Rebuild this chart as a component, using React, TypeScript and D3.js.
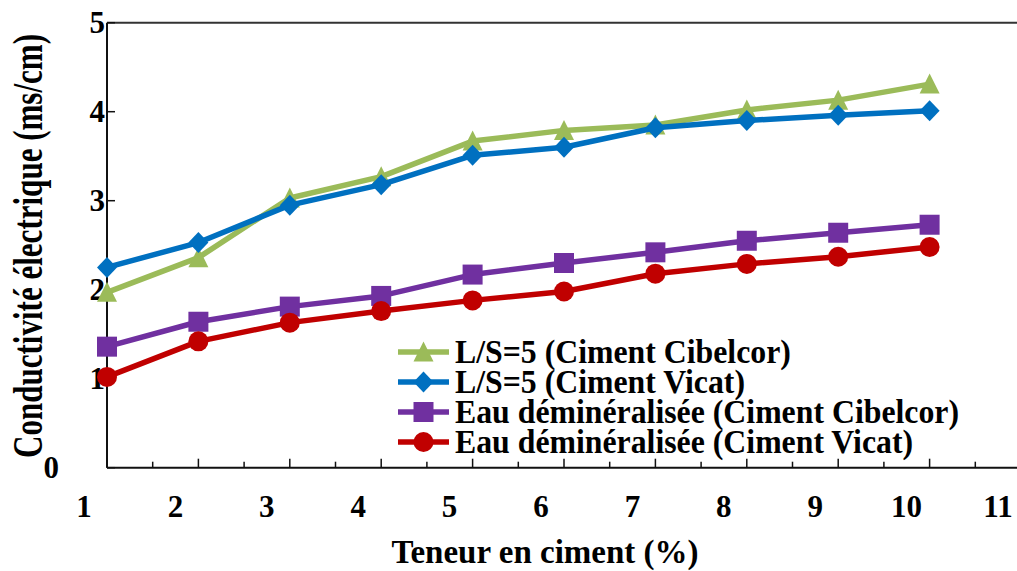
import React from "react";
import * as d3 from "d3";

const cementContent = [1, 2, 3, 4, 5, 6, 7, 8, 9, 10];
const lsCibelcor = [1.97, 2.36, 3.03, 3.27, 3.67, 3.79, 3.85, 4.02, 4.13, 4.31];
const lsVicat = [2.25, 2.53, 2.95, 3.18, 3.51, 3.6, 3.82, 3.9, 3.96, 4.01];
const eauCibelcor = [1.36, 1.64, 1.81, 1.93, 2.17, 2.3, 2.42, 2.55, 2.64, 2.73];
const eauVicat = [1.02, 1.42, 1.63, 1.76, 1.88, 1.98, 2.18, 2.29, 2.37, 2.48];
const seriesNames = [
  "L/S=5 (Ciment Cibelcor)",
  "L/S=5 (Ciment Vicat)",
  "Eau déminéralisée (Ciment Cibelcor)",
  "Eau déminéralisée (Ciment Vicat)",
];
const xTickLabels = ["1", "2", "3", "4", "5", "6", "7", "8", "9", "10", "11"];
const yTickLabels = ["0", "1", "2", "3", "4", "5"];
const xTitle = "Teneur en ciment (%)";
const yTitle = "Conductivité électrique (ms/cm)";

const W = 1017;
const H = 571;
const FONT = "'Liberation Serif', 'Times New Roman', serif";

type Shape = "triangle" | "diamond" | "square" | "circle";
const seriesStyle: { color: string; shape: Shape }[] = [
  { color: "#9BBB59", shape: "triangle" },
  { color: "#0070C0", shape: "diamond" },
  { color: "#7030A0", shape: "square" },
  { color: "#C00000", shape: "circle" },
];

function markerPath(shape: Shape, cx: number, cy: number): string {
  const p = d3.path();
  if (shape === "triangle") {
    p.moveTo(cx, cy - 10.5);
    p.lineTo(cx + 10, cy + 9.5);
    p.lineTo(cx - 10, cy + 9.5);
    p.closePath();
  } else if (shape === "diamond") {
    p.moveTo(cx, cy - 10.5);
    p.lineTo(cx + 10, cy);
    p.lineTo(cx, cy + 10.5);
    p.lineTo(cx - 10, cy);
    p.closePath();
  } else if (shape === "square") {
    p.rect(cx - 10, cy - 10, 20, 20);
  } else {
    p.arc(cx, cy, 10, 0, Math.PI * 2);
    p.closePath();
  }
  return p.toString();
}

export default function App() {
  const x = d3.scaleLinear().domain([1, 11]).range([107, 1021]);
  const y = d3.scaleLinear().domain([0, 5]).range([467.7, 22.7]);
  const allSeries = [lsCibelcor, lsVicat, eauCibelcor, eauVicat];
  const line = d3
    .line<number>()
    .x((_, i) => x(cementContent[i]))
    .y((v) => y(v));

  const majorX = d3.range(1, 12);
  const minorX = d3.range(1.5, 11, 1);
  const yTicks = d3.range(0, 6);

  const legendX = 398;
  const legendY0 = 352;
  const legendDy = 30;

  return (
    <svg
      width={W}
      height={H}
      style={{ position: "absolute", left: 0, top: 0, background: "#fff" }}
      fontFamily={FONT}
      fontWeight="bold"
    >
      <rect x={0} y={0} width={W} height={H} fill="#fff" />
      {/* frame */}
      <line x1={x(1)} x2={W} y1={y(5)} y2={y(5)} stroke="#333" strokeWidth={2} />
      <line x1={x(1)} x2={W} y1={y(0)} y2={y(0)} stroke="#111" strokeWidth={2} />
      <line x1={x(1)} x2={x(1)} y1={y(5)} y2={y(0)} stroke="#111" strokeWidth={2} />
      {majorX.map((t) => (
        <line key={"mx" + t} x1={x(t)} x2={x(t)} y1={y(0)} y2={y(0) - 9} stroke="#111" strokeWidth={1.5} />
      ))}
      {minorX.map((t) => (
        <line key={"nx" + t} x1={x(t)} x2={x(t)} y1={y(0)} y2={y(0) - 6} stroke="#111" strokeWidth={1.5} />
      ))}
      {yTicks.map((t) => (
        <line key={"my" + t} x1={x(1)} x2={x(1) + 8} y1={y(t)} y2={y(t)} stroke="#111" strokeWidth={1.5} />
      ))}
      {/* tick labels */}
      {majorX.map((t, i) => (
        <text key={"lx" + t} x={x(t) - 23} y={506} textAnchor="middle" dominantBaseline="central" fontSize={31}>
          {xTickLabels[i]}
        </text>
      ))}
      {yTicks.map((t, i) => (
        <text
          key={"ly" + t}
          x={t === 0 ? 59 : 105}
          y={y(t)}
          textAnchor="end"
          dominantBaseline="central"
          fontSize={31}
        >
          {yTickLabels[i]}
        </text>
      ))}
      {/* titles */}
      <text x={545} y={563} textAnchor="middle" fontSize={33}>
        {xTitle}
      </text>
      <text
        transform={`translate(42,246) rotate(-90)`}
        textAnchor="middle"
        fontSize={43}
        textLength={424}
        lengthAdjust="spacingAndGlyphs"
      >
        {yTitle}
      </text>
      {/* series */}
      {allSeries.map((vals, si) => (
        <g key={"s" + si}>
          <path d={line(vals) || ""} fill="none" stroke={seriesStyle[si].color} strokeWidth={5.5} strokeLinejoin="round" />
          {vals.map((v, i) => (
            <path key={i} d={markerPath(seriesStyle[si].shape, x(cementContent[i]), y(v))} fill={seriesStyle[si].color} />
          ))}
        </g>
      ))}
      {/* legend */}
      {seriesNames.map((name, si) => {
        const cy = legendY0 + si * legendDy;
        return (
          <g key={"lg" + si}>
            <line x1={legendX} x2={legendX + 51} y1={cy} y2={cy} stroke={seriesStyle[si].color} strokeWidth={5.5} />
            <path d={markerPath(seriesStyle[si].shape, legendX + 25.5, cy)} fill={seriesStyle[si].color} />
            <g transform={`translate(455,${cy}) scale(0.935,1)`}>
              <text x={0} y={0} dominantBaseline="central" fontSize={34}>
                {name}
              </text>
            </g>
          </g>
        );
      })}
    </svg>
  );
}
